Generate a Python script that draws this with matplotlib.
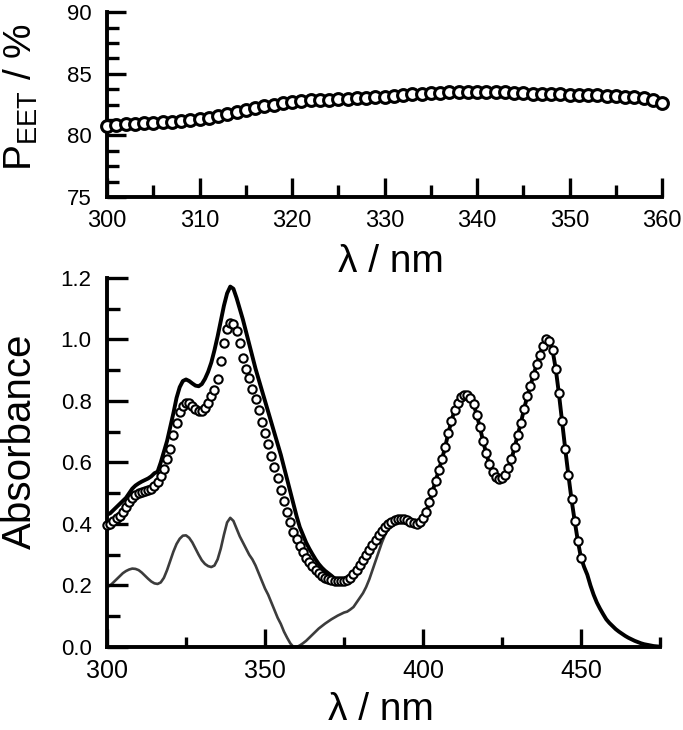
import matplotlib
matplotlib.use("Agg")
import matplotlib.pyplot as plt
import numpy as np
from matplotlib.ticker import MultipleLocator, FormatStrFormatter

plt.rcParams['font.family'] = ['Liberation Sans', 'DejaVu Sans']
plt.rcParams['mathtext.default'] = 'regular'

# ---- top panel: P_EET vs wavelength (1 nm steps, 300-360) ----
wl_top = np.arange(300, 361)
p_eet = [80.75, 80.85, 80.90, 80.95, 81.00, 81.02, 81.06, 81.10, 81.15, 81.22,
         81.32, 81.45, 81.60, 81.77, 81.93, 82.08, 82.22, 82.36, 82.48, 82.60,
         82.70, 82.78, 82.84, 82.88, 82.91, 82.94, 82.97, 83.00, 83.04, 83.09,
         83.15, 83.20, 83.26, 83.32, 83.38, 83.43, 83.47, 83.50, 83.53, 83.55,
         83.55, 83.54, 83.52, 83.50, 83.47, 83.44, 83.40, 83.37, 83.34, 83.32,
         83.30, 83.28, 83.26, 83.24, 83.21, 83.18, 83.14, 83.08, 83.00, 82.85,
         82.65]

# ---- bottom panel: absorbance spectra ----
# circles, 300-450 nm in 1 nm steps
wl_circ = np.arange(300, 451)
abs_circ = [0.397, 0.400, 0.410, 0.418, 0.425, 0.440, 0.455, 0.470, 0.483, 0.493,
            0.500, 0.503, 0.506, 0.510, 0.515, 0.523, 0.535, 0.555, 0.580, 0.610,
            0.645, 0.690, 0.730, 0.765, 0.785, 0.795, 0.793, 0.785, 0.775, 0.767,
            0.768, 0.778, 0.795, 0.815, 0.835, 0.870, 0.930, 0.990, 1.035, 1.052,
            1.050, 1.027, 0.990, 0.940, 0.905, 0.875, 0.840, 0.805, 0.770, 0.733,
            0.696, 0.660, 0.620, 0.585, 0.550, 0.510, 0.475, 0.440, 0.405, 0.375,
            0.350, 0.328, 0.310, 0.290, 0.275, 0.262, 0.250, 0.240, 0.232, 0.225,
            0.220, 0.217, 0.214, 0.213, 0.213, 0.214, 0.218, 0.226, 0.238, 0.252,
            0.267, 0.283, 0.300, 0.316, 0.333, 0.348, 0.363, 0.377, 0.390, 0.400,
            0.408, 0.414, 0.417, 0.417, 0.415, 0.412, 0.407, 0.403, 0.401, 0.405,
            0.420, 0.440, 0.470, 0.505, 0.540, 0.575, 0.610, 0.650, 0.695, 0.735,
            0.770, 0.795, 0.812, 0.820, 0.820, 0.810, 0.790, 0.755, 0.715, 0.670,
            0.630, 0.595, 0.570, 0.553, 0.545, 0.548, 0.560, 0.583, 0.610, 0.650,
            0.690, 0.730, 0.775, 0.815, 0.850, 0.885, 0.920, 0.950, 0.980, 1.000,
            0.995, 0.965, 0.905, 0.825, 0.735, 0.645, 0.560, 0.480, 0.410, 0.345,
            0.290]

# solid black line, 300-475 nm
wl_line = np.arange(300, 476)
abs_line_a = [0.430, 0.435, 0.445, 0.455, 0.465, 0.475, 0.485, 0.500, 0.515, 0.525,
              0.532, 0.538, 0.543, 0.548, 0.555, 0.565, 0.570, 0.600, 0.635, 0.670,
              0.715, 0.760, 0.810, 0.845, 0.865, 0.870, 0.865, 0.857, 0.850, 0.848,
              0.855, 0.872, 0.895, 0.925, 0.965, 1.010, 1.060, 1.110, 1.150, 1.172,
              1.165, 1.135, 1.100, 1.065, 1.025, 0.985, 0.945, 0.905, 0.870, 0.835,
              0.800, 0.765, 0.730, 0.695, 0.660, 0.625, 0.585, 0.545, 0.505, 0.465,
              0.425, 0.390, 0.365, 0.340, 0.320, 0.302, 0.285, 0.270, 0.258, 0.248,
              0.240, 0.232, 0.223, 0.215, 0.210, 0.210, 0.212, 0.220, 0.235]
# from 379 to 450 the line runs under the circles
abs_line_b = abs_circ[79:]
abs_line_c = [0.260, 0.235, 0.200, 0.170, 0.145, 0.125, 0.107, 0.090, 0.078, 0.068,
              0.058, 0.050, 0.043, 0.036, 0.030, 0.025, 0.020, 0.016, 0.012, 0.009,
              0.007, 0.005, 0.003, 0.002, 0.001]
abs_line = abs_line_a + abs_line_b + abs_line_c

# grey line, 300-391 nm
wl_grey = np.arange(300, 392)
abs_grey = [0.195, 0.200, 0.210, 0.220, 0.230, 0.240, 0.247, 0.252, 0.255, 0.254,
            0.250, 0.242, 0.232, 0.222, 0.213, 0.207, 0.205, 0.210, 0.225, 0.250,
            0.280, 0.310, 0.335, 0.352, 0.362, 0.363, 0.355, 0.340, 0.320, 0.300,
            0.282, 0.270, 0.263, 0.260, 0.265, 0.285, 0.320, 0.365, 0.405, 0.420,
            0.410, 0.385, 0.360, 0.340, 0.320, 0.300, 0.285, 0.265, 0.240, 0.215,
            0.190, 0.170, 0.145, 0.120, 0.095, 0.075, 0.050, 0.030, 0.012, 0.000,
            0.000, 0.005, 0.012, 0.020, 0.030, 0.040, 0.050, 0.060, 0.068, 0.076,
            0.083, 0.090, 0.096, 0.102, 0.107, 0.112, 0.115, 0.122, 0.130, 0.145,
            0.160, 0.175, 0.195, 0.220, 0.250, 0.280, 0.310, 0.340, 0.365, 0.385,
            0.400, 0.410]


def style_axes(ax):
    for s in ("top", "right"):
        ax.spines[s].set_visible(False)
    for s in ("left", "bottom"):
        ax.spines[s].set_linewidth(2.8)
    ax.tick_params(which="both", direction="in", width=2.4, colors="black")


fig = plt.figure(figsize=(6.83, 7.30), dpi=100)

# top panel
ax1 = fig.add_axes([0.1567, 0.730, 0.8128, 0.2534])
ax1.plot(wl_top, p_eet, "o", ms=8.5, mfc="white", mec="black", mew=2.2,
         clip_on=False, zorder=3)
ax1.set_xlim(300, 360)
ax1.set_ylim(75, 90)
ax1.xaxis.set_major_locator(MultipleLocator(10))
ax1.xaxis.set_minor_locator(MultipleLocator(5))
ax1.yaxis.set_major_locator(MultipleLocator(5))
ax1.yaxis.set_minor_locator(MultipleLocator(1.25))
style_axes(ax1)
ax1.tick_params(which="major", length=14)
ax1.tick_params(which="minor", length=8.5)
ax1.tick_params(axis="x", labelsize=17, pad=9)
ax1.tick_params(axis="y", labelsize=16, pad=11)
ax1.set_xlabel(u"λ / nm", size=28, va="center")
ax1.xaxis.set_label_coords(0.512, -0.35)
ax1.set_ylabel(r"P$_{EET}$ / %", size=28, va="center")
ax1.yaxis.set_label_coords(-0.155, 0.54)

# bottom panel
ax2 = fig.add_axes([0.1567, 0.1137, 0.8096, 0.5055])
ax2.plot(wl_grey, abs_grey, "-", color="#3c3c3c", lw=1.9, zorder=1)
ax2.plot(wl_line, abs_line, "-", color="black", lw=2.8, zorder=2)
ax2.plot(wl_circ, abs_circ, "o", ms=6.0, mfc="white", mec="black", mew=1.5,
         clip_on=False, zorder=3)
ax2.set_xlim(300, 475)
ax2.set_ylim(0.0, 1.2)
ax2.xaxis.set_major_locator(MultipleLocator(50))
ax2.xaxis.set_minor_locator(MultipleLocator(25))
ax2.yaxis.set_major_locator(MultipleLocator(0.2))
ax2.yaxis.set_minor_locator(MultipleLocator(0.1))
ax2.yaxis.set_major_formatter(FormatStrFormatter("%.1f"))
style_axes(ax2)
ax2.tick_params(axis="x", which="major", length=13)
ax2.tick_params(axis="x", which="minor", length=7.5)
ax2.tick_params(axis="y", which="major", length=15)
ax2.tick_params(axis="y", which="minor", length=9.5)
ax2.tick_params(axis="x", labelsize=18, pad=9)
ax2.tick_params(axis="y", labelsize=16, pad=11)
ax2.set_xlabel(u"λ / nm", size=28, va="center")
ax2.xaxis.set_label_coords(0.495, -0.171)
ax2.set_ylabel("Absorbance", size=29, va="center")
ax2.yaxis.set_label_coords(-0.157, 0.558)

fig.savefig("out.png", dpi=100)
